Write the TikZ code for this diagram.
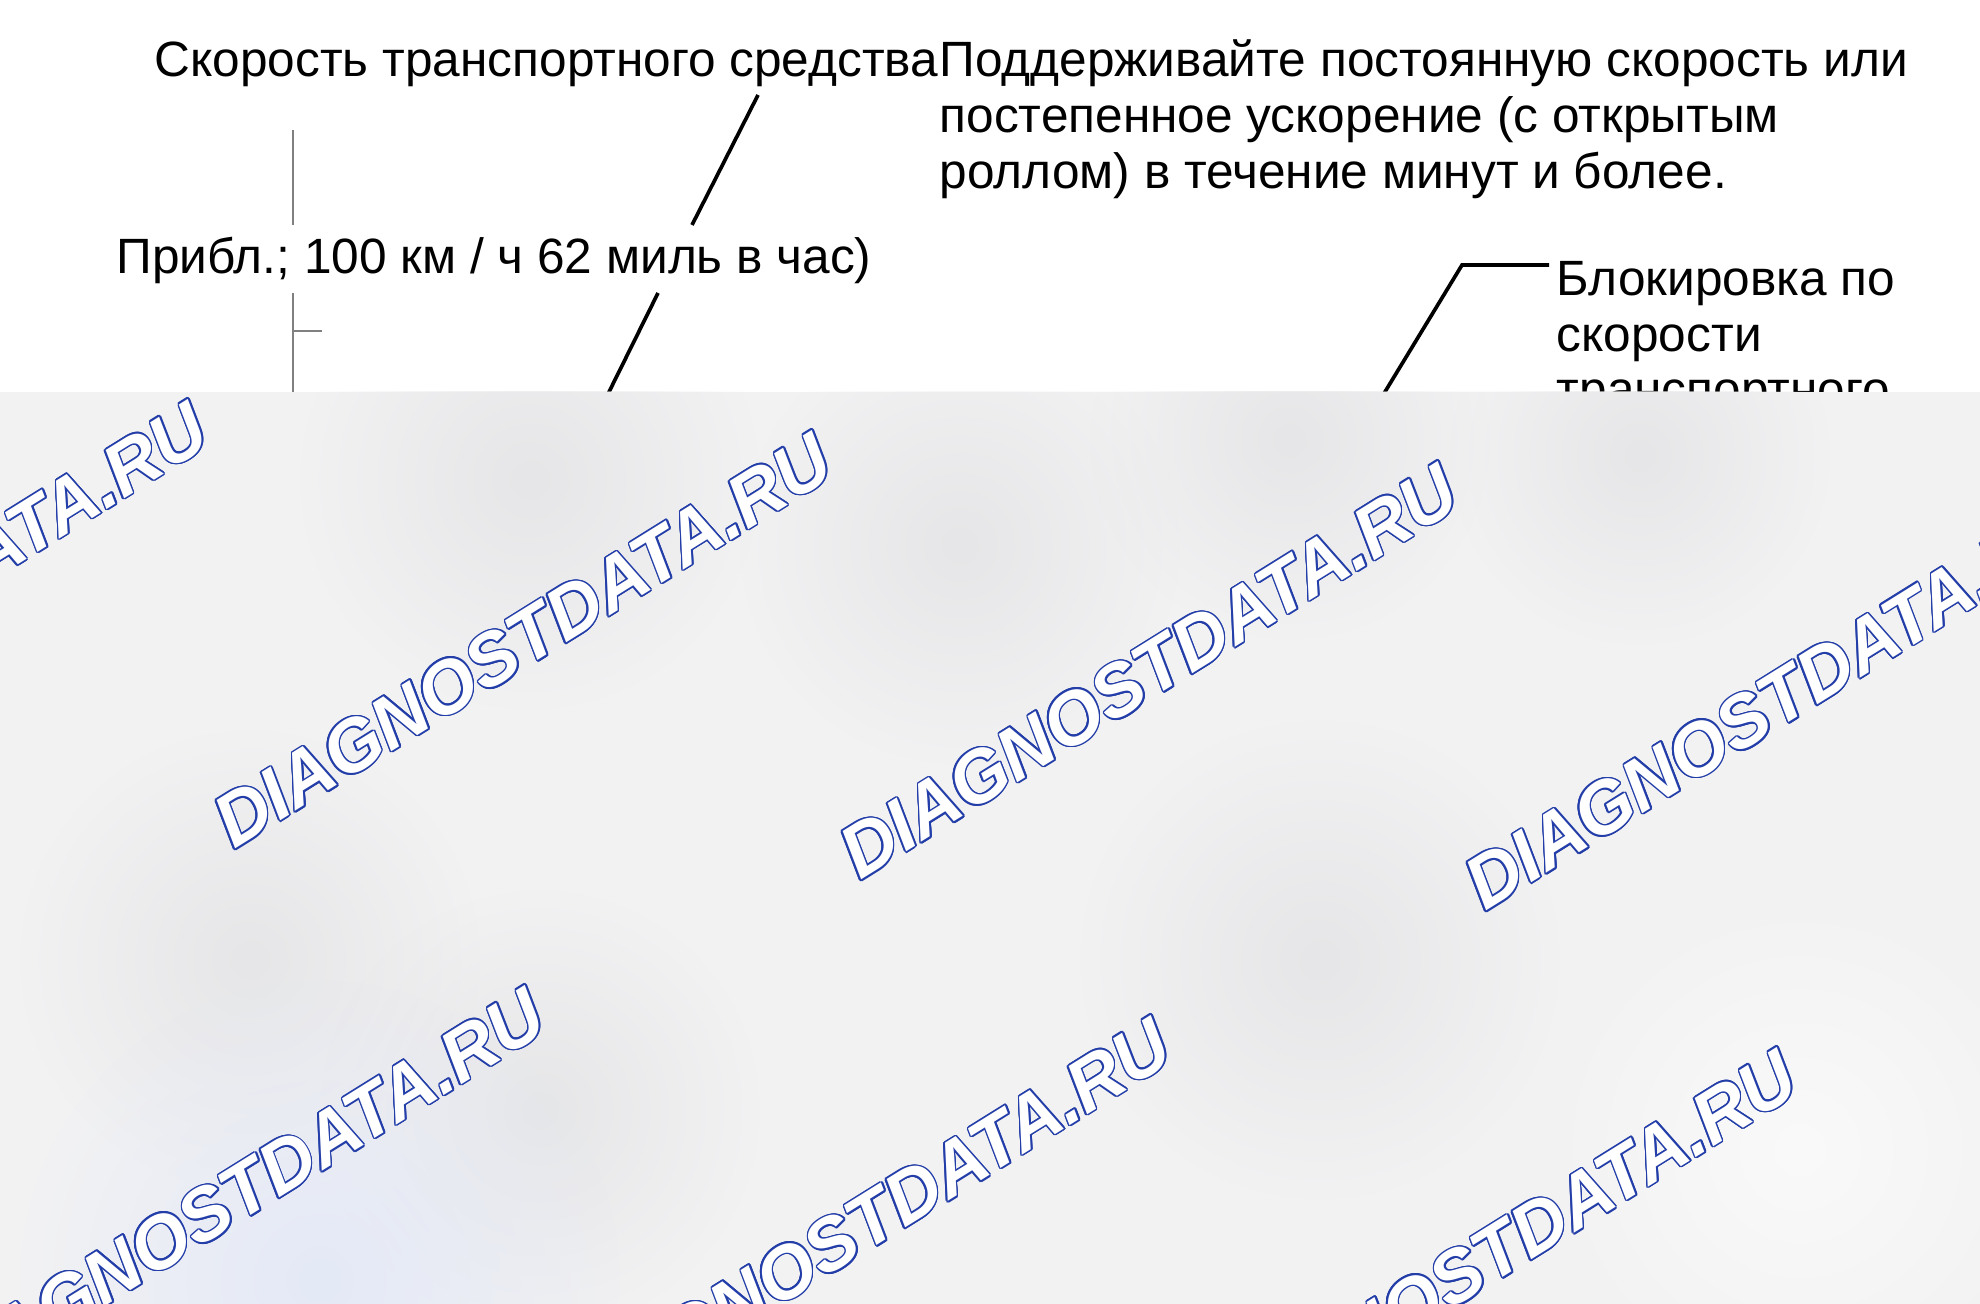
\documentclass[tikz,border=0pt]{standalone}
\usepackage{fontspec}
\setmainfont{Liberation Sans}
\usepackage[copies]{contour}
\usetikzlibrary{fadings}

\definecolor{wmblue}{RGB}{35,62,168}
\definecolor{veil}{RGB}{242,242,243}
\definecolor{veildark}{RGB}{230,230,232}
\definecolor{veilblue}{RGB}{228,233,247}
\contourlength{0.45pt}
\tikzfading[name=blob, inner color=transparent!0, outer color=transparent!100]

\newcommand{\wmtext}{{\color{white}\contour{wmblue}{DIAGNOSTDATA.RU}}}

\begin{document}
\begin{tikzpicture}[x=0.01cm, y=-0.01cm,
  every node/.style={font=\fontsize{14.1pt}{15.9pt}\selectfont, inner sep=0pt},
  lead/.style={line width=1.05pt},
  axis/.style={gray, line width=0.5pt},
  wm/.style={rotate=31.9, font=\fontsize{21pt}{21pt}\selectfont\bfseries\itshape}]

\useasboundingbox (0,0) rectangle (1980,1304);
\fill[white] (0,0) rectangle (1980,1304);

% Labels (multi-line ones sit on their last line)
\node (speed) [anchor=base west] at (154,77) {Скорость транспортного средства};
\node (hold) [anchor=base west, align=left] at ([yshift=-31.8pt]speed.base east) {Поддерживайте постоянную скорость или\\постепенное ускорение (с открытым\\роллом) в течение минут и более.};
\node (approx) [anchor=base west] at (116,274) {Прибл.; 100 км / ч 62 миль в час)};
\node (lock) [anchor=base west, align=left] at (1556,407) {Блокировка по\\скорости\\транспортного};

% Speed axis (broken by the label)
\coordinate (ax1) at (293,130);
\coordinate (ax2) at (293,225);
\coordinate (ax3) at (293,293);
\coordinate (ax4) at (293,400);
\coordinate (tk) at (322,331);
\draw[axis] (ax1) -- (ax2);
\draw[axis] (ax3) -- (ax4);
\draw[axis] (ax3 |- tk) -- (tk);

% Leaders
\coordinate (l1a) at (758,95);
\coordinate (l1b) at (692,225);
\coordinate (l2a) at (658,293);
\coordinate (l2b) at (605,400);
\coordinate (l3a) at (1462,265);
\coordinate (l3b) at (1380,400);
\draw[lead] (l1a) -- (l1b);
\draw[lead] (l2a) -- (l2b);
\draw[lead] (lock.west |- l3a) ++(-0.07cm,0) -- (l3a) -- (l3b);

% Veil over the lower part
\begin{scope}
\clip (0,392) rectangle (1980,1304);
\fill[veil] (0,392) rectangle (1980,1304);
\fill[veildark, path fading=blob] (530,480) circle (230);
\fill[veildark, path fading=blob] (960,545) circle (220);
\fill[veildark, path fading=blob] (1290,440) circle (200);
\fill[veildark, path fading=blob] (1640,455) circle (190);
\fill[veildark, path fading=blob] (250,960) circle (230);
\fill[veildark, path fading=blob] (1320,960) circle (240);
\fill[veildark, path fading=blob] (540,1110) circle (220);
\fill[veilblue, path fading=blob] (320,1280) circle (300);
\fill[white, opacity=0.6, path fading=blob] (1800,1150) circle (260);

% Watermarks
\node (wa) [wm] at (-101,610) {\wmtext};
\node (wb) [wm] at (523,641) {\wmtext};
\node (wc) [wm] at (1149,672) {\wmtext};
\node (wd) [wm] at (1774,703) {\wmtext};
\node (we) [wm] at (-385,1170) {\wmtext};
\node (wf) [wm] at (236,1196) {\wmtext};
\node (wg) [wm] at (862,1226) {\wmtext};
\node (wh) [wm] at (1488,1258) {\wmtext};
\end{scope}

\end{tikzpicture}
\end{document}
